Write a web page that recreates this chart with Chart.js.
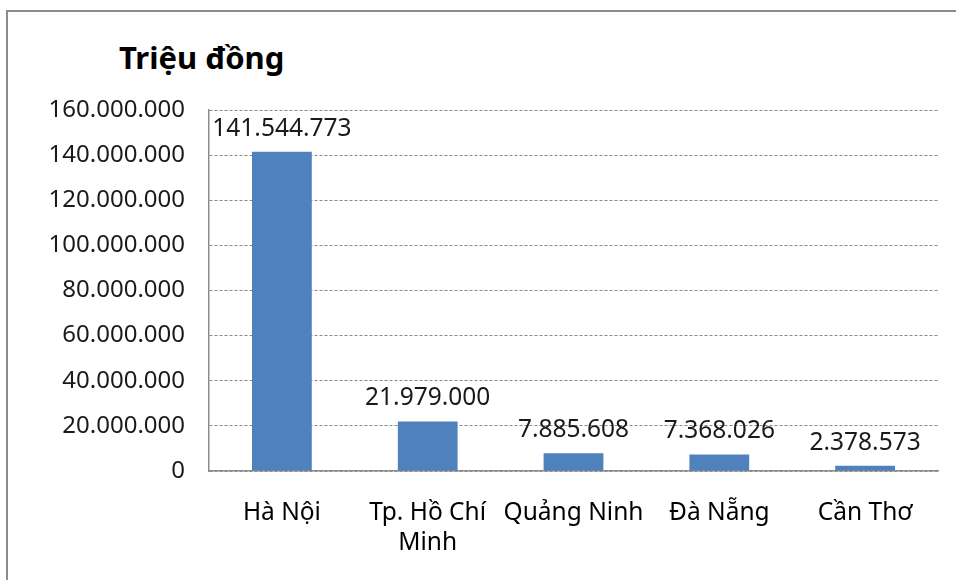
<!DOCTYPE html>
<html>
<head>
<meta charset="utf-8">
<script src="https://cdn.jsdelivr.net/npm/chart.js@4/dist/chart.umd.min.js"></script>
<style>
    html, body { margin: 0; padding: 0; background: #fff; }
    #wrap { position: relative; width: 956px; height: 580px; overflow: hidden; }
    #frame {
        position: absolute; left: 6px; top: 10px; width: 1000px; height: 600px;
        border-top: 2px solid #8c8c8c; border-left: 2px solid #8c8c8c;
    }
    #unit {
        position: absolute; left: 119px; top: 36px;
        font: bold 31px "Noto Sans", sans-serif; color: #000;
    }
    canvas { position: absolute; left: 0; top: 0; }
</style>
</head>
<body>
<div id="wrap">
    <div id="frame"></div>
    <div id="unit">Triệu đồng</div>
    <canvas id="revenueChart" width="956" height="580"></canvas>
</div>
<script>
// --- DATA ---
const provinces = ['Hà Nội', ['Tp. Hồ Chí', 'Minh'], 'Quảng Ninh', 'Đà Nẵng', 'Cần Thơ'];
const revenue = [141544773, 21979000, 7885608, 7368026, 2378573];
const yTicks = [0, 20000000, 40000000, 60000000, 80000000, 100000000, 120000000, 140000000, 160000000];

const FONT = '"Noto Sans", sans-serif';

// 141544773 -> "141.544.773"
function formatVnd(v) {
    return String(Math.round(v)).replace(/\B(?=(\d{3})+(?!\d))/g, '.');
}

// Draw the value above each bar
const valueLabels = {
    id: 'valueLabels',
    afterDatasetsDraw(chart) {
        const ctx = chart.ctx;
        const meta = chart.getDatasetMeta(0);
        ctx.save();
        ctx.font = '24.5px ' + FONT;
        ctx.fillStyle = '#1a1a1a';
        ctx.textAlign = 'center';
        ctx.textBaseline = 'alphabetic';
        meta.data.forEach((bar, i) => {
            ctx.fillText(formatVnd(revenue[i]), bar.x, bar.y - 16);
        });
        ctx.restore();
    }
};

const ctx = document.getElementById('revenueChart').getContext('2d');
new Chart(ctx, {
    type: 'bar',
    data: {
        labels: provinces,
        datasets: [{
            data: revenue,
            backgroundColor: '#4f81bd',
            borderWidth: 0,
            categoryPercentage: 1,
            barPercentage: 0.41
        }]
    },
    options: {
        responsive: false,
        animation: false,
        layout: { padding: { left: 0, top: 110, right: 18, bottom: 0 } },
        plugins: { legend: { display: false }, tooltip: { enabled: false }, title: { display: false } },
        scales: {
            x: {
                grid: { display: false, drawTicks: false },
                border: { color: '#8c8c8c', width: 1.5 },
                ticks: { color: '#000', padding: 27, maxRotation: 0, autoSkip: false, font: { family: FONT, size: 24.5, lineHeight: 1.22 } },
                afterFit(scale) { scale.height = 109; }
            },
            y: {
                min: 0,
                max: yTicks[yTicks.length - 1],
                afterBuildTicks(scale) { scale.ticks = yTicks.map(v => ({ value: v })); },
                grid: { color: '#8a8a8a', lineWidth: 1, drawTicks: false },
                // in v4 border.dash styles the gridlines; the axis line stays solid
                border: { color: '#8c8c8c', width: 1.5, dash: [3, 2] },
                ticks: {
                    color: '#1a1a1a', padding: 24,
                    font: { family: FONT, size: 24 },
                    callback: v => formatVnd(v)
                },
                afterFit(scale) { scale.width = 209; }
            }
        }
    },
    plugins: [valueLabels]
});
</script>
</body>
</html>
